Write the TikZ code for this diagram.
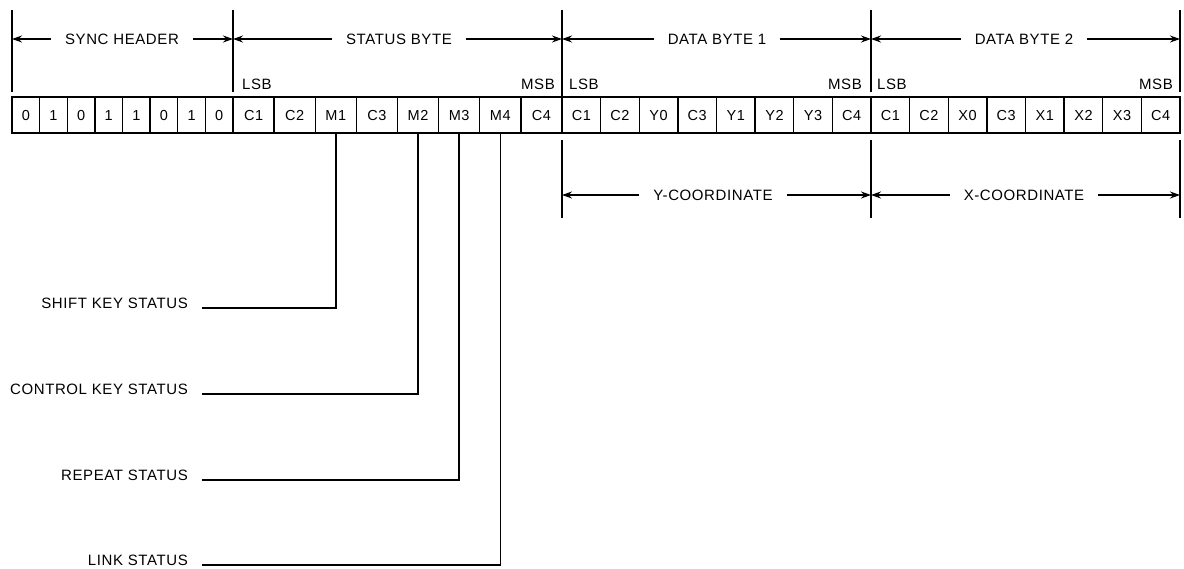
\documentclass[tikz,border=0pt]{standalone}
\usepackage{fontspec}
\setmainfont[LetterSpace=4]{Liberation Sans}
\usetikzlibrary{positioning,arrows.meta}

\begin{document}
\begin{tikzpicture}[
    x=1pt, y=-1pt,
    bitcell/.style={draw, line width=1.3pt, minimum height=36pt, inner sep=0pt, outer sep=0pt,
        text height=10.5pt, text depth=0pt, font=\fontsize{14.5}{16}\selectfont},
    syncbit/.style={bitcell, minimum width=27.625pt},
    statbit/.style={bitcell, minimum width=41.125pt},
    databit/.style={bitcell, minimum width=38.625pt},
    bytelabel/.style={font=\fontsize{15}{17}\selectfont, inner xsep=14pt, inner ysep=0pt},
    sblabel/.style={font=\fontsize{15}{17}\selectfont, inner sep=0pt},
    keylabel/.style={font=\fontsize{15}{17}\selectfont, inner sep=0pt},
    border/.style={line width=1.2pt},
    dim/.style={line width=1.1pt, ->},
    keyline/.style={line width=1.4pt},
    >={Stealth[length=10pt,width=7pt]}
]
\useasboundingbox (0,0) rectangle (1184,568);

% Sync header
\node[syncbit, anchor=north west] (h1) at (12,97) {0};
\node[syncbit, right=0pt of h1] (h2) {1};
\node[syncbit, right=0pt of h2] (h3) {0};
\node[syncbit, right=0pt of h3] (h4) {1};
\node[syncbit, right=0pt of h4] (h5) {1};
\node[syncbit, right=0pt of h5] (h6) {0};
\node[syncbit, right=0pt of h6] (h7) {1};
\node[syncbit, right=0pt of h7] (h8) {0};

% Status byte
\node[statbit, right=0pt of h8] (s1) {C1};
\node[statbit, right=0pt of s1] (s2) {C2};
\node[statbit, right=0pt of s2] (s3) {M1};
\node[statbit, right=0pt of s3] (s4) {C3};
\node[statbit, right=0pt of s4] (s5) {M2};
\node[statbit, right=0pt of s5] (s6) {M3};
\node[statbit, right=0pt of s6] (s7) {M4};
\node[statbit, right=0pt of s7] (s8) {C4};

% Data byte 1
\node[databit, right=0pt of s8] (d1) {C1};
\node[databit, right=0pt of d1] (d2) {C2};
\node[databit, right=0pt of d2] (d3) {Y0};
\node[databit, right=0pt of d3] (d4) {C3};
\node[databit, right=0pt of d4] (d5) {Y1};
\node[databit, right=0pt of d5] (d6) {Y2};
\node[databit, right=0pt of d6] (d7) {Y3};
\node[databit, right=0pt of d7] (d8) {C4};

% Data byte 2
\node[databit, right=0pt of d8] (e1) {C1};
\node[databit, right=0pt of e1] (e2) {C2};
\node[databit, right=0pt of e2] (e3) {X0};
\node[databit, right=0pt of e3] (e4) {C3};
\node[databit, right=0pt of e4] (e5) {X1};
\node[databit, right=0pt of e5] (e6) {X2};
\node[databit, right=0pt of e6] (e7) {X3};
\node[databit, right=0pt of e7] (e8) {C4};

% Byte borders
\draw[border] ([yshift=5pt]h1.north west) -- ([yshift=87pt]h1.north west);
\draw[border] ([yshift=5pt]s1.north west) -- ([yshift=87pt]s1.north west);
\draw[border] ([yshift=0pt]d1.north west) -- ([yshift=87pt]d1.north west);
\draw[border] ([yshift=5pt]e1.north west) -- ([yshift=87pt]e1.north west);
\draw[border] ([yshift=5pt]e8.north east) -- ([yshift=87pt]e8.north east);
\draw[border] ([yshift=-7pt]d1.south west) -- ([yshift=-85pt]d1.south west);
\draw[border] ([yshift=-7pt]e1.south west) -- ([yshift=-85pt]e1.south west);
\draw[border] ([yshift=-7pt]e8.south east) -- ([yshift=-85pt]e8.south east);

% Byte labels
\node[bytelabel] (synclbl) at (122,39) {SYNC HEADER};
\node[bytelabel] (statlbl) at (399,39) {STATUS BYTE};
\node[bytelabel] (dalbl)   at (717,39) {DATA BYTE 1};
\node[bytelabel] (dblbl)   at (1024,39) {DATA BYTE 2};
\node[bytelabel] (ylbl)    at (713,195) {Y-COORDINATE};
\node[bytelabel] (xlbl)    at (1024,195) {X-COORDINATE};

\draw[dim] (synclbl.west) -- (synclbl.west -| h1.west);
\draw[dim] (synclbl.east) -- (synclbl.east -| s1.west);
\draw[dim] (statlbl.west) -- (statlbl.west -| s1.west);
\draw[dim] (statlbl.east) -- (statlbl.east -| d1.west);
\draw[dim] (dalbl.west)   -- (dalbl.west -| d1.west);
\draw[dim] (dalbl.east)   -- (dalbl.east -| e1.west);
\draw[dim] (dblbl.west)   -- (dblbl.west -| e1.west);
\draw[dim] (dblbl.east)   -- (dblbl.east -| e8.east);
\draw[dim] (ylbl.west)    -- (ylbl.west -| d1.west);
\draw[dim] (ylbl.east)    -- (ylbl.east -| e1.west);
\draw[dim] (xlbl.west)    -- (xlbl.west -| e1.west);
\draw[dim] (xlbl.east)    -- (xlbl.east -| e8.east);

% LSB / MSB
\node[sblabel, anchor=base west] (lsbs) at ([xshift=9pt,yshift=8pt]s1.north west) {LSB};
\node[sblabel, anchor=base east] (msbs) at ([xshift=-7pt,yshift=8pt]s8.north east) {MSB};
\node[sblabel, anchor=base west] (lsbd) at ([xshift=7pt,yshift=8pt]d1.north west) {LSB};
\node[sblabel, anchor=base east] (msbd) at ([xshift=-9pt,yshift=8pt]d8.north east) {MSB};
\node[sblabel, anchor=base west] (lsbe) at ([xshift=6pt,yshift=8pt]e1.north west) {LSB};
\node[sblabel, anchor=base east] (msbe) at ([xshift=-7pt,yshift=8pt]e8.north east) {MSB};

% Status bits
\node[keylabel, anchor=base east] (shiftkey) at (188,308) {SHIFT KEY STATUS};
\node[keylabel, anchor=base east] (ctrlkey)  at (188,394) {CONTROL KEY STATUS};
\node[keylabel, anchor=base east] (repkey)   at (188,480) {REPEAT STATUS};
\node[keylabel, anchor=base east] (linkkey)  at (188,565) {LINK STATUS};

\draw[keyline] ([xshift=14pt]shiftkey.base east) -| (s3.south);
\draw[keyline] ([xshift=14pt]ctrlkey.base east)  -| (s5.south);
\draw[keyline] ([xshift=14pt]repkey.base east)   -| (s6.south);
\draw[keyline] ([xshift=14pt]linkkey.base east)  -| (s7.south);
\end{tikzpicture}
\end{document}
